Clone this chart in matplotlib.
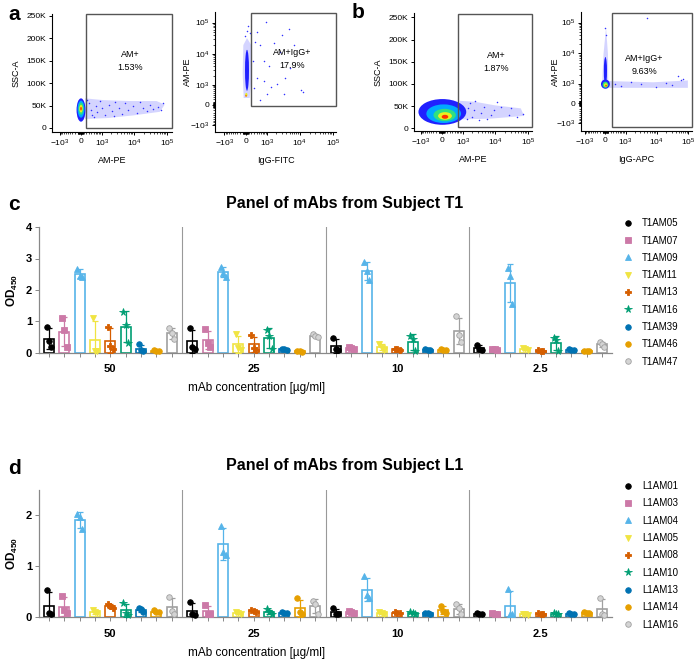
import numpy as np
import matplotlib
matplotlib.use("Agg")
from matplotlib import pyplot as plt
from matplotlib.patches import Ellipse, Polygon, Rectangle
from matplotlib.lines import Line2D

plt.rcParams['font.family'] = ['Liberation Sans', 'DejaVu Sans']
plt.rcParams['mathtext.default'] = 'regular'

# ---------------- ELISA data (OD450, 3 replicates per concentration) ----------------
concentrations = ['50', '25', '10', '2.5']

t1_names = ['T1AM05', 'T1AM07', 'T1AM09', 'T1AM11', 'T1AM13',
            'T1AM16', 'T1AM39', 'T1AM46', 'T1AM47']
t1_od = [
    [[0.82, 0.38, 0.18], [0.78, 0.20, 0.12], [0.47, 0.12, 0.08], [0.25, 0.12, 0.10]],
    [[1.10, 0.73, 0.18], [0.75, 0.32, 0.20], [0.18, 0.16, 0.14], [0.14, 0.12, 0.10]],
    [[2.68, 2.45, 2.42], [2.74, 2.55, 2.42], [2.90, 2.60, 2.33], [2.70, 2.45, 1.55]],
    [[1.12, 0.07, 0.05], [0.59, 0.15, 0.08], [0.28, 0.17, 0.10], [0.15, 0.12, 0.09]],
    [[0.84, 0.22, 0.12], [0.56, 0.15, 0.10], [0.14, 0.12, 0.10], [0.09, 0.07, 0.06]],
    [[1.29, 0.89, 0.33], [0.74, 0.53, 0.12], [0.53, 0.45, 0.06], [0.48, 0.40, 0.06]],
    [[0.27, 0.10, 0.05], [0.14, 0.12, 0.10], [0.12, 0.10, 0.09], [0.12, 0.10, 0.08]],
    [[0.09, 0.06, 0.05], [0.07, 0.05, 0.04], [0.12, 0.10, 0.08], [0.07, 0.06, 0.05]],
    [[0.80, 0.62, 0.45], [0.60, 0.55, 0.50], [1.17, 0.58, 0.35], [0.36, 0.27, 0.20]],
]

l1_names = ['L1AM01', 'L1AM03', 'L1AM04', 'L1AM05', 'L1AM08',
            'L1AM10', 'L1AM13', 'L1AM14', 'L1AM16']
l1_od = [
    [[0.53, 0.07, 0.05], [0.29, 0.05, 0.04], [0.17, 0.06, 0.05], [0.08, 0.06, 0.05]],
    [[0.41, 0.14, 0.07], [0.23, 0.06, 0.05], [0.11, 0.09, 0.08], [0.07, 0.06, 0.05]],
    [[2.03, 1.97, 1.74], [1.80, 1.28, 1.22], [0.80, 0.43, 0.38], [0.56, 0.06, 0.05]],
    [[0.13, 0.09, 0.07], [0.09, 0.07, 0.05], [0.09, 0.08, 0.06], [0.06, 0.05, 0.04]],
    [[0.25, 0.22, 0.18], [0.14, 0.12, 0.09], [0.09, 0.08, 0.07], [0.07, 0.06, 0.05]],
    [[0.28, 0.07, 0.04], [0.15, 0.09, 0.06], [0.10, 0.08, 0.06], [0.07, 0.06, 0.05]],
    [[0.18, 0.15, 0.10], [0.09, 0.08, 0.07], [0.08, 0.07, 0.06], [0.07, 0.06, 0.05]],
    [[0.13, 0.10, 0.09], [0.37, 0.09, 0.06], [0.22, 0.12, 0.07], [0.09, 0.08, 0.07]],
    [[0.40, 0.12, 0.06], [0.32, 0.26, 0.06], [0.25, 0.18, 0.06], [0.38, 0.05, 0.03]],
]

mab_colors = ['#000000', '#cc79a7', '#56b4e9', '#f0e442', '#d55e00',
              '#009e73', '#0072b2', '#e69f00', '#a0a0a0']
mab_markers = ['o', 's', '^', 'v', 'P', '*', 'o', 'o', 'o']

# ---------------- flow cytometry (display units: biex decades / SSC in K) ----------------
# density contours: (x, y, width, height, level) with level 0 = sparse blue ... 5 = red
a1_core = [(0.01, 40, 0.27, 52, 1), (0.01, 42, 0.21, 38, 2), (0.01, 43, 0.15, 27, 3),
           (0.01, 43, 0.10, 17, 4), (0.01, 43, 0.05, 8, 5)]
a1_haze = [(0.13, 20), (0.13, 66), (0.7, 62), (1.5, 60), (2.3, 60),
           (2.55, 52), (2.4, 36), (1.6, 28), (0.8, 22)]
a1_dots_x = [0.25, 0.30, 0.35, 0.45, 0.50, 0.60, 0.65, 0.75, 0.85, 0.95, 1.05, 1.15, 1.25, 1.35,
             1.45, 1.60, 1.70, 1.80, 1.90, 2.00, 2.10, 2.20, 2.35, 2.50, 0.20, 0.40, 1.00, 2.45]
a1_dots_y = [55, 40, 30, 50, 35, 60, 45, 28, 52, 38, 58, 44, 32, 55,
             40, 50, 34, 57, 45, 38, 52, 42, 47, 55, 62, 25, 26, 40]

a2_core = [(0.04, 1.1, 0.12, 1.3, 1), (0.02, 0.32, 0.07, 0.12, 4), (0.01, 0.29, 0.035, 0.06, 5)]
a2_haze = [(-0.06, 0.22), (-0.09, 1.0), (-0.07, 1.9), (0.04, 2.12), (0.17, 1.9),
           (0.18, 0.9), (0.12, 0.22)]
a2_dots_x = [0.62, 0.33, 1.09, 1.29, 0.43, 0.84, 0.54, 0.69, 1.04, 1.34, 0.54, 0.76,
             1.14, 1.65, 1.71, 0.94, 0.33, 0.25, 0.64, 0.43, 1.44, 0.23, 0.28, 1.19,
             0.05, 0.08, -0.02, 0.12]
a2_dots_y = [2.62, 2.31, 2.21, 2.41, 1.90, 1.95, 1.38, 1.23, 1.69, 1.18, 0.77, 0.58,
             0.34, 0.48, 0.42, 0.67, 0.85, 0.54, 0.34, 0.17, 1.90, 1.38, 2.0, 0.87,
             2.35, 2.5, 2.2, 2.28]

b1_core = [(0.02, 37, 1.45, 58, 1), (0.06, 33, 1.05, 42, 2), (0.09, 30, 0.68, 28, 3),
           (0.1, 28, 0.42, 17, 4), (0.1, 26, 0.2, 9, 5)]
b1_haze = [(0.6, 20), (0.55, 62), (1.0, 60), (1.6, 52), (2.4, 45), (2.5, 28), (1.5, 22)]
b1_dots_x = [0.97, 1.18, 1.49, 1.79, 2.10, 2.30, 1.59, 0.87, 1.38, 2.05, 2.46, 1.69,
             1.13, 0.92, 1.28, 0.80, 0.78, 1.0]
b1_dots_y = [41, 34, 30, 49, 45, 26, 41, 56, 22, 30, 32, 60,
             19, 26, 49, 45, 20, 62]

b2_core = [(0.0, 1.05, 0.1, 0.9, 1), (0.0, 0.62, 0.28, 0.3, 1), (0.0, 0.6, 0.18, 0.2, 3),
           (0.01, 0.59, 0.11, 0.12, 4), (0.02, 0.57, 0.05, 0.06, 5)]
b2_haze = [(0.1, 0.5), (0.1, 0.72), (1.5, 0.68), (2.6, 0.74), (2.6, 0.5), (1.5, 0.5),
           (0.1, 0.5), (0.09, 0.7), (0.08, 1.6), (0.02, 2.45), (-0.06, 1.6), (-0.1, 0.7)]
b2_dots_x = [1.32, 2.28, 2.38, 1.11, 0.5, 0.8, 1.6, 1.9, 2.1, 0.3, -0.02, 0.03, 2.45]
b2_dots_y = [2.75, 0.87, 0.77, 0.62, 0.55, 0.70, 0.52, 0.66, 0.58, 0.64, 2.45, 2.2, 0.80]

level_colors = ['#b8b8ff', '#2020ff', '#00a8ff', '#30e080', '#e8f020', '#ff3000']


def biex(v):
    return np.arcsinh(np.asarray(v, dtype=float) / 484.0) / np.log(10)


biex_major = [-1000, 0, 1000, 10000, 100000]
biex_labels = [r'$-10^3$', '0', r'$10^3$', r'$10^4$', r'$10^5$']
biex_minor = ([s * k * m for s in (-1, 1) for m in (10, 100) for k in range(1, 10)]
              + [k * m for m in (1000, 10000) for k in range(2, 10)])


def style_flow_axis(axis, log_axis):
    if log_axis:
        axis.set_ticks(biex(biex_major))
        axis.set_ticklabels(biex_labels)
        axis.set_ticks(biex(biex_minor), minor=True)
    else:
        axis.set_ticks([0, 50, 100, 150, 200, 250])
        axis.set_ticklabels(['0', '50K', '100K', '150K', '200K', '250K'])


def flow_panel(rect, xlim, ylim, y_is_log, core, dots_x, dots_y, gate, label, xlabel,
               ylabel, ylabel_x, haze=None):
    ax = fig.add_axes(rect)
    ax.set_xlim(*xlim)
    ax.set_ylim(*ylim)
    for s in ['top', 'right']:
        ax.spines[s].set_visible(False)
    for s in ['left', 'bottom']:
        ax.spines[s].set_linewidth(0.8)
    style_flow_axis(ax.xaxis, True)
    style_flow_axis(ax.yaxis, y_is_log)
    ax.tick_params(labelsize=6, length=2.5, width=0.7, pad=1.5)
    ax.tick_params(which='minor', length=1.5, width=0.5)
    if haze is not None:
        ax.add_patch(Polygon(haze, closed=True, facecolor=level_colors[0], edgecolor='none',
                             alpha=0.6, zorder=1))
    ax.scatter(dots_x, dots_y, s=1.2, color='#3030ff', linewidths=0, zorder=2)
    for cx, cy, w, h, lev in core:
        ax.add_patch(Ellipse((cx, cy), w, h, facecolor=level_colors[lev], edgecolor='none',
                             zorder=3))
    x0, x1, y0, y1 = gate
    ax.add_patch(Rectangle((x0, y0), x1 - x0, y1 - y0, fill=False, edgecolor='#555555',
                           linewidth=1.0, zorder=4, clip_on=False))
    ax.text(label[0], label[1], label[2], ha='center', va='center', fontsize=6.5,
            linespacing=1.6, zorder=5)
    ax.set_xlabel(xlabel, fontsize=6.5)
    ax.xaxis.set_label_coords(0.5, -0.2)
    ax.set_ylabel(ylabel, fontsize=6.5)
    ax.yaxis.set_label_coords(ylabel_x, 0.5)
    return ax


W, H = 698, 662
fig = plt.figure(figsize=(W / 100, H / 100), dpi=100)


def px_rect(left, top, right, bottom):
    return [left / W, 1 - bottom / H, (right - left) / W, (bottom - top) / H]


flow_panel(px_rect(52, 14, 172, 132), (-0.87, 2.77), (-9, 254), False,
           a1_core, a1_dots_x, a1_dots_y, (0.16, 2.77, 0, 254),
           (1.5, 150, 'AM+\n1.53%'), 'AM-PE', 'SSC-A', -0.26, haze=a1_haze)
flow_panel(px_rect(215, 12, 336, 132), (-0.92, 2.71), (-0.86, 2.95), True,
           a2_core, a2_dots_x, a2_dots_y, (0.16, 2.71, -0.05, 2.91),
           (1.4, 1.45, 'AM+IgG+\n17.9%'), 'IgG-FITC', 'AM-PE', -0.19, haze=a2_haze)
flow_panel(px_rect(414, 13, 532, 131), (-0.84, 2.74), (-6, 260), False,
           b1_core, b1_dots_x, b1_dots_y, (0.51, 2.74, 2, 257),
           (1.65, 150, 'AM+\n1.87%'), 'AM-PE', 'SSC-A', -0.27, haze=b1_haze)
flow_panel(px_rect(581, 12, 692, 131), (-0.77, 2.73), (-0.9, 2.96), True,
           b2_core, b2_dots_x, b2_dots_y, (0.21, 2.73, -0.78, 2.94),
           (1.22, 1.25, 'AM+IgG+\n9.63%'), 'IgG-APC', 'AM-PE', -0.19, haze=b2_haze)

# ---------------- ELISA bar panels ----------------
group_gap = 0.35
offsets = [-0.16, 0.0, 0.16]


def elisa_panel(rect, names, od, ymax, yticks, title):
    ax = fig.add_axes(rect)
    n = len(names)
    step = n + group_gap
    for j, name in enumerate(names):
        reps = np.array(od[j])
        xs = np.arange(len(concentrations)) * step + j
        means = reps.mean(axis=1)
        sds = reps.std(axis=1, ddof=1)
        col = mab_colors[j]
        ax.bar(xs, means, width=0.65, facecolor='white', edgecolor=col, linewidth=1.2, zorder=2)
        ax.errorbar(xs, means, yerr=sds, fmt='none', ecolor=col, elinewidth=0.9,
                    capsize=2, capthick=0.9, zorder=3)
        mfc = '#d4d4d4' if j == 8 else col
        ms = 5.5 if mab_markers[j] == '*' else 4
        for k in range(reps.shape[1]):
            ax.plot(xs + offsets[k], reps[:, k], linestyle='none', marker=mab_markers[j],
                    markersize=ms, markerfacecolor=mfc, markeredgecolor=col,
                    markeredgewidth=0.6, zorder=4, clip_on=False)

    for g in range(len(concentrations) - 1):
        ax.axvline(g * step + (n - 1 + step) / 2, color='#999999', linewidth=0.8, zorder=1)
    for g, lab in enumerate(concentrations):
        ax.text(g * step + (n - 1) / 2, -0.13, lab, transform=ax.get_xaxis_transform(),
                ha='center', va='center', fontsize=8, fontweight='bold')
    ax.text(0.38, -0.28, 'mAb concentration [µg/ml]', transform=ax.transAxes,
            ha='center', va='center', fontsize=8.5)
    ax.text(0.534, 1.19, title, transform=ax.transAxes, ha='center', va='center',
            fontsize=11.5, fontweight='bold')

    ax.set_xticks([g * step + j for g in range(len(concentrations)) for j in range(n)])
    ax.set_xticklabels([])
    ax.set_xlim(-0.65, (len(concentrations) - 1) * step + n - 1 + 0.65)
    ax.set_ylim(0, ymax)
    ax.set_yticks(yticks)
    ax.set_yticklabels([str(t) for t in yticks], fontweight='bold', fontsize=8)
    ax.tick_params(axis='x', length=3, color='#888888', width=0.7)
    ax.tick_params(axis='y', length=3, color='#888888', width=0.7, pad=2)
    for s in ['top', 'right']:
        ax.spines[s].set_visible(False)
    for s in ['left', 'bottom']:
        ax.spines[s].set_color('#888888')
        ax.spines[s].set_linewidth(0.9)
    ax.set_ylabel('OD$_{450}$', fontweight='bold', fontsize=8.5)
    ax.yaxis.set_label_coords(-0.033, 0.5)

    handles = []
    for j, name in enumerate(names):
        mfc = '#d4d4d4' if j == 8 else mab_colors[j]
        ms = 5.5 if mab_markers[j] == '*' else 4
        handles.append(Line2D([], [], linestyle='none', marker=mab_markers[j], markersize=ms,
                              markerfacecolor=mfc, markeredgecolor=mab_colors[j],
                              markeredgewidth=0.6, label=name))
    ax.legend(handles=handles, loc='upper left', bbox_to_anchor=(1.012, 1.1),
              frameon=False, fontsize=7, handlelength=1.0, handletextpad=1.0,
              labelspacing=0.75, borderaxespad=0)
    return ax


elisa_panel(px_rect(39, 227, 612, 353), t1_names, t1_od, 4, [0, 1, 2, 3, 4],
            'Panel of mAbs from Subject T1')
elisa_panel(px_rect(39, 490, 612, 617), l1_names, l1_od, 2.5, [0, 1, 2],
            'Panel of mAbs from Subject L1')

for letter, (x, y) in zip('abcd', [(8, 15), (352, 13), (8, 205), (8, 468)]):
    fig.text(x / W, 1 - y / H, letter, fontsize=15, fontweight='bold', ha='left', va='center')

fig.savefig('out.png', dpi=100)
